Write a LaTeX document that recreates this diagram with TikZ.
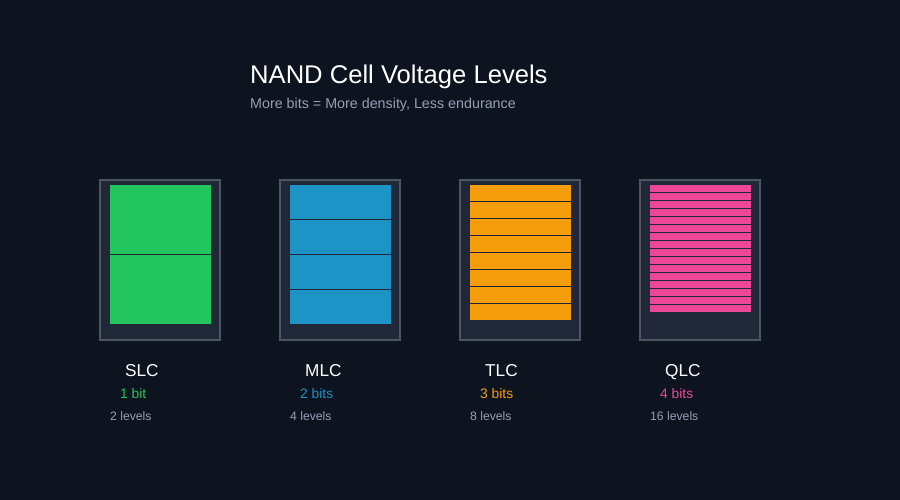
\documentclass[tikz,border=0pt]{standalone}
\usepackage{fontspec}
\setmainfont{Liberation Sans}
\definecolor{bgcol}{HTML}{0E1320}
\definecolor{boxfill}{HTML}{202736}
\definecolor{boxline}{HTML}{4B5568}
\definecolor{softgray}{HTML}{94A0B4}
\definecolor{slccol}{HTML}{22C55E}
\definecolor{mlccol}{HTML}{1E93C6}
\definecolor{tlccol}{HTML}{F59E0B}
\definecolor{qlccol}{HTML}{EC4899}
\tikzset{
  every node/.style={inner sep=0pt, anchor=base west},
  titletext/.style={white, font=\fontsize{25.6}{29}\selectfont},
  subtext/.style={softgray, font=\fontsize{14.3}{17}\selectfont},
  celltext/.style={white, font=\fontsize{17.2}{20}\selectfont},
  bitstext/.style={font=\fontsize{13.8}{16}\selectfont},
  levtext/.style={softgray, font=\fontsize{12.2}{14}\selectfont},
  cellbox/.style={draw=boxline, fill=boxfill, line width=2pt}
}
\begin{document}
\begin{tikzpicture}[x=1pt,y=-1pt]
  \fill[bgcol] (0,0) rectangle (900,500);
  \node[titletext] (title) at (250,83.5) {NAND Cell Voltage Levels};
  \node[subtext] (subtitle) at (250,108.3) {More bits = More density, Less endurance};
  % one column per cell type
  \foreach \x/\name/\bits/\n/\stp/\col in {100/SLC/1 bit/2/70/slccol,
                                           280/MLC/2 bits/4/35/mlccol,
                                           460/TLC/3 bits/8/17/tlccol,
                                           640/QLC/4 bits/16/8/qlccol} {
    \begin{scope}[xshift=\x]
      \draw[cellbox] (0,180) rectangle (120,340);
      \foreach \i in {1,...,\n}
        \fill[\col] (10,{185+(\i-1)*\stp}) rectangle (111,{184+\i*\stp});
      \node[celltext] (\name-name) at (25,376.7) {\name};
      \node[bitstext, text=\col] (\name-bits) at (20,398.3) {\bits};
      \node[levtext] (\name-levels) at (10,420.7) {\n\ levels};
    \end{scope}
  }
\end{tikzpicture}
\end{document}
